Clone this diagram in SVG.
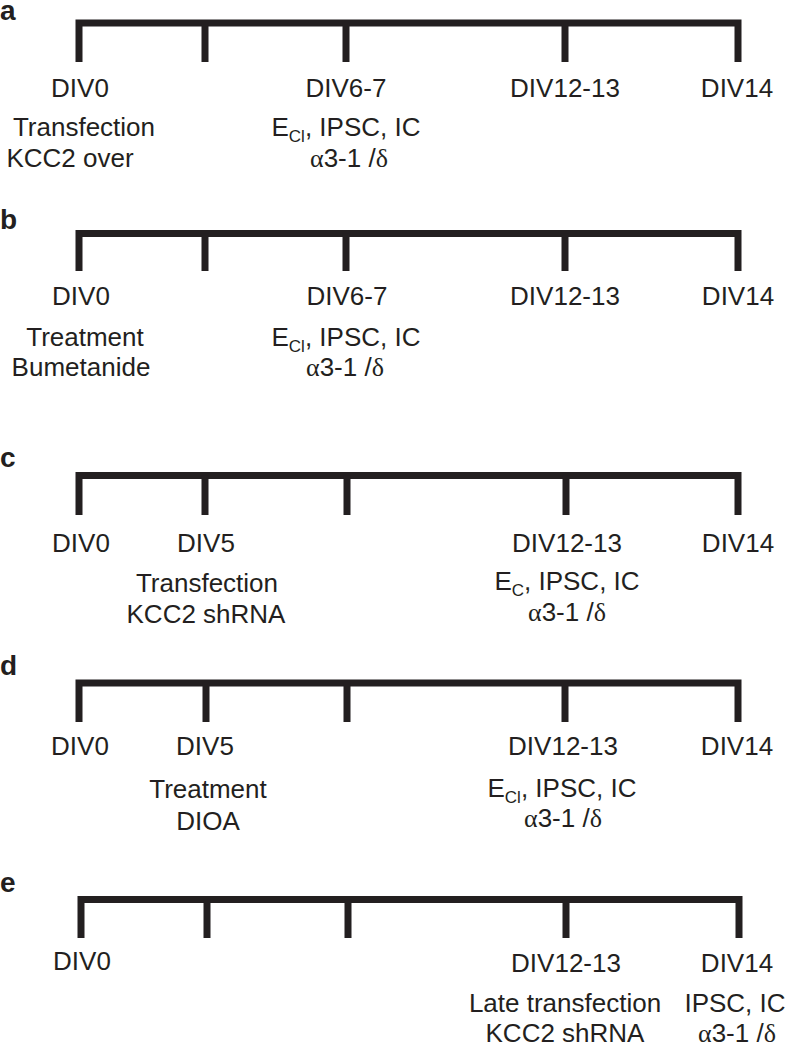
<svg xmlns="http://www.w3.org/2000/svg" width="788" height="1049" viewBox="0 0 788 1049">
<style>
.t{font-family:"Liberation Sans",Arial,Helvetica,sans-serif;font-size:26px;fill:#231f20;text-anchor:middle}
.lbl{font-family:"Liberation Sans",Arial,Helvetica,sans-serif;font-size:28px;font-weight:bold;fill:#231f20}
.gk{font-family:"Liberation Serif","Times New Roman",serif}
.sub{font-size:17px}
.tl{fill:none;stroke:#231f20;stroke-width:7;stroke-linecap:butt;stroke-linejoin:miter}
</style>
<rect width="788" height="1049" fill="#ffffff"/>
<g id="timelines">
  <g id="timeline-a">
    <path class="tl" d="M79,62 V23 H738 V62"/>
    <path class="tl" d="M205,23 V62 M346,23 V62 M565,23 V62"/>
  </g>
  <g id="timeline-b">
    <path class="tl" d="M79,271 V233.5 H738 V271"/>
    <path class="tl" d="M205,233.5 V271 M346,233.5 V271 M565,233.5 V271"/>
  </g>
  <g id="timeline-c">
    <path class="tl" d="M79,515 V475.5 H738 V515"/>
    <path class="tl" d="M205,475.5 V515 M347,475.5 V515 M566,475.5 V515"/>
  </g>
  <g id="timeline-d">
    <path class="tl" d="M79,722 V683 H738 V722"/>
    <path class="tl" d="M206,683 V722 M347,683 V722 M565,683 V722"/>
  </g>
  <g id="timeline-e">
    <path class="tl" d="M81,938 V899.5 H739 V938"/>
    <path class="tl" d="M207,899.5 V938 M348,899.5 V938 M566,899.5 V938"/>
  </g>
</g>
<g id="panel-a">
  <text class="lbl" x="0" y="20">a</text>
  <text class="t" x="80" y="97">DIV0</text>
  <text class="t" x="84" y="136">Transfection</text>
  <text class="t" x="70" y="167">KCC2 over</text>
  <text class="t" x="346" y="97">DIV6-7</text>
  <text class="t" x="346" y="136">E<tspan class="sub" dy="6">Cl</tspan><tspan dy="-6">, IPSC, IC</tspan></text>
  <text class="t" x="349" y="167"><tspan class="gk">α</tspan>3-1 /<tspan class="gk">δ</tspan></text>
  <text class="t" x="565" y="97">DIV12-13</text>
  <text class="t" x="737" y="97">DIV14</text>
</g>
<g id="panel-b">
  <text class="lbl" x="0" y="229">b</text>
  <text class="t" x="81" y="305">DIV0</text>
  <text class="t" x="85" y="346">Treatment</text>
  <text class="t" x="81" y="376">Bumetanide</text>
  <text class="t" x="347" y="305">DIV6-7</text>
  <text class="t" x="346" y="346">E<tspan class="sub" dy="6">Cl</tspan><tspan dy="-6">, IPSC, IC</tspan></text>
  <text class="t" x="345" y="376"><tspan class="gk">α</tspan>3-1 /<tspan class="gk">δ</tspan></text>
  <text class="t" x="565" y="305">DIV12-13</text>
  <text class="t" x="738" y="305">DIV14</text>
</g>
<g id="panel-c">
  <text class="lbl" x="0" y="467">c</text>
  <text class="t" x="81" y="552">DIV0</text>
  <text class="t" x="206" y="552">DIV5</text>
  <text class="t" x="207" y="592">Transfection</text>
  <text class="t" x="206" y="623">KCC2 shRNA</text>
  <text class="t" x="567" y="552">DIV12-13</text>
  <text class="t" x="567" y="590">E<tspan class="sub" dy="6">C</tspan><tspan dy="-6">, IPSC, IC</tspan></text>
  <text class="t" x="567" y="621"><tspan class="gk">α</tspan>3-1 /<tspan class="gk">δ</tspan></text>
  <text class="t" x="738" y="552">DIV14</text>
</g>
<g id="panel-d">
  <text class="lbl" x="0" y="675">d</text>
  <text class="t" x="80" y="755">DIV0</text>
  <text class="t" x="205" y="755">DIV5</text>
  <text class="t" x="208" y="798">Treatment</text>
  <text class="t" x="208" y="830">DIOA</text>
  <text class="t" x="563" y="755">DIV12-13</text>
  <text class="t" x="562" y="797">E<tspan class="sub" dy="6">Cl</tspan><tspan dy="-6">, IPSC, IC</tspan></text>
  <text class="t" x="563" y="827"><tspan class="gk">α</tspan>3-1 /<tspan class="gk">δ</tspan></text>
  <text class="t" x="737" y="755">DIV14</text>
</g>
<g id="panel-e">
  <text class="lbl" x="0" y="892">e</text>
  <text class="t" x="82" y="970">DIV0</text>
  <text class="t" x="566" y="972">DIV12-13</text>
  <text class="t" x="565" y="1012">Late transfection</text>
  <text class="t" x="565" y="1042">KCC2 shRNA</text>
  <text class="t" x="737" y="972">DIV14</text>
  <text class="t" x="735" y="1012">IPSC, IC</text>
  <text class="t" x="737" y="1042"><tspan class="gk">α</tspan>3-1 /<tspan class="gk">δ</tspan></text>
</g>
</svg>
